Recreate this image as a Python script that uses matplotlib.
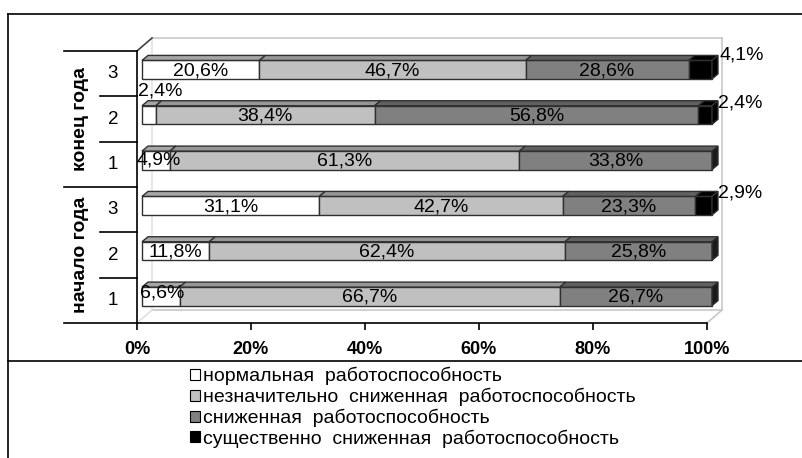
import matplotlib
matplotlib.use('Agg')
import matplotlib.pyplot as plt
from matplotlib.patches import Polygon, Patch
from matplotlib.lines import Line2D

plt.rcParams['font.family'] = ['Liberation Sans', 'DejaVu Sans']

# rows go bottom -> top: начало года 1..3, конец года 1..3
groups = ['начало года', 'конец года']
row_nums = ['1', '2', '3', '1', '2', '3']
series_names = ['нормальная  работоспособность',
                'незначительно  сниженная  работоспособность',
                'сниженная  работоспособность',
                'существенно  сниженная  работоспособность']
normal = [6.6, 11.8, 31.1, 4.9, 2.4, 20.6]
slight = [66.7, 62.4, 42.7, 61.3, 38.4, 46.7]
reduced = [26.7, 25.8, 23.3, 33.8, 56.8, 28.6]
severe = [0.0, 0.0, 2.9, 0.0, 2.4, 4.1]
series = [normal, slight, reduced, severe]

face_cols = ['#ffffff', '#c0c0c0', '#808080', '#000000']
top_cols = ['#a6a6a6', '#969696', '#606060', '#000000']
side_cols = ['#8a8a8a', '#7a7a7a', '#1a1a1a', '#000000']
edge = '#303030'

# labels of thin segments that are moved off the bar: (row, series) -> (anchor, dx px, dy px)
moved = {(4, 0): ('left', -4, 24), (3, 0): ('left', -5, 0), (0, 0): ('left', -2, 3),
         (5, 3): ('right', 8, 15), (4, 3): ('right', 6, 12), (2, 3): ('right', 6, 13)}

W, H = 803, 458
fig = plt.figure(figsize=(W / 100, H / 100), dpi=100)


def fx(px):
    return px / W


def fy(py):
    return 1 - py / H


ax = fig.add_axes([fx(137), fy(323), 570 / W, 272 / H])
ax.set_xlim(0, 100)
ax.set_ylim(0, 6)
kx = 100 / 570   # data units per pixel
ky = 6 / 272

fdx, fdy = 5 * kx, 4 * ky      # bar front plane offset
bdx, bdy = 6 * kx, 5 * ky      # bar depth
wdx, wdy = 15 * kx, 13 * ky    # wall depth
bh = 18.5 * ky

# back walls and floor
wall = '#c8c8c8'
for xs, ys, c in [([wdx, 100 + wdx], [6 + wdy, 6 + wdy], wall),
                  ([100 + wdx, 100 + wdx], [6 + wdy, wdy], wall),
                  ([wdx, 100 + wdx], [wdy, wdy], wall),
                  ([wdx, wdx], [wdy, 6 + wdy], '#e4e4e4'),
                  ([0, wdx], [0, wdy], '#e0e0e0'),
                  ([100, 100 + wdx], [0, wdy], wall),
                  ([0, wdx], [6, 6 + wdy], '#404040')]:
    ax.plot(xs, ys, color=c, lw=1.2, clip_on=False, zorder=1)

n = len(normal)
for i in range(n):
    yc = i + 0.5 + fdy
    yb, yt = yc - bh / 2, yc + bh / 2
    left = 0.0
    last = max(j for j in range(4) if series[j][i] > 0)
    for j in range(4):
        v = series[j][i]
        if v <= 0:
            continue
        x0 = left + fdx
        x1 = x0 + v
        ax.barh(yc, v, left=x0, height=bh, color=face_cols[j], edgecolor=edge,
                lw=1.0, clip_on=False, zorder=3)
        ax.add_patch(Polygon([(x0, yt), (x1, yt), (x1 + bdx, yt + bdy), (x0 + bdx, yt + bdy)],
                             closed=True, fc=top_cols[j], ec=edge, lw=1.0, clip_on=False, zorder=3))
        if j == last:
            ax.add_patch(Polygon([(x1, yb), (x1, yt), (x1 + bdx, yt + bdy), (x1 + bdx, yb + bdy)],
                                 closed=True, fc=side_cols[j], ec=edge, lw=1.0, clip_on=False, zorder=3))
        txt = ('%.1f%%' % v).replace('.', ',')
        if (i, j) in moved:
            anchor, dx, dy = moved[(i, j)]
            xa = x0 if anchor == 'left' else x1
            ax.annotate(txt, (xa, yc), xytext=(dx, dy), textcoords='offset pixels',
                        ha='left', va='center', fontsize=14, zorder=5, annotation_clip=False)
        else:
            ax.annotate(txt, (x0 + v / 2, yc), xytext=(0, -1), textcoords='offset pixels',
                        ha='center', va='center', fontsize=14, zorder=5, annotation_clip=False)
        left += v

# axes
for s in ['top', 'right']:
    ax.spines[s].set_visible(False)
for s in ['left', 'bottom']:
    ax.spines[s].set_color('black')
    ax.spines[s].set_linewidth(1.2)
ax.set_xticks(range(0, 101, 20))
ax.set_xticklabels(['%d%%' % t for t in range(0, 101, 20)], fontsize=13, fontweight='bold')
ax.tick_params(axis='x', length=5, width=1.2, pad=8)
ax.set_yticks([])

# two-level category axis
for b in range(7):
    start = 64 if b % 3 == 0 else 100
    ax.plot([(start - 137) * kx, 0], [b, b], color='black', lw=1.2, clip_on=False)
for i, lab in enumerate(row_nums):
    ax.text((113 - 137) * kx, i + 0.5, lab, ha='center', va='center', fontsize=13.5)
for g, lab in enumerate(groups):
    ax.text((81 - 137) * kx, 3 * g + 1.5, lab, ha='center', va='center', rotation=90,
            fontsize=14, fontweight='bold')

# outer frame
for xs, ys in [([8, 8], [14, 458]), ([8, 803], [14, 14]), ([8, 803], [361, 361])]:
    fig.add_artist(Line2D([fx(x) for x in xs], [fy(y) for y in ys], color='black', lw=1.2))

handles = [Patch(facecolor=c, edgecolor='black', lw=0.8) for c in face_cols]
fig.legend(handles, series_names, loc='upper left', bbox_to_anchor=(fx(190), fy(367)),
           frameon=False, fontsize=14, handlelength=0.5, handleheight=0.5,
           handletextpad=0.15, labelspacing=0.13, borderpad=0, borderaxespad=0)

fig.savefig('out.png', dpi=100)
